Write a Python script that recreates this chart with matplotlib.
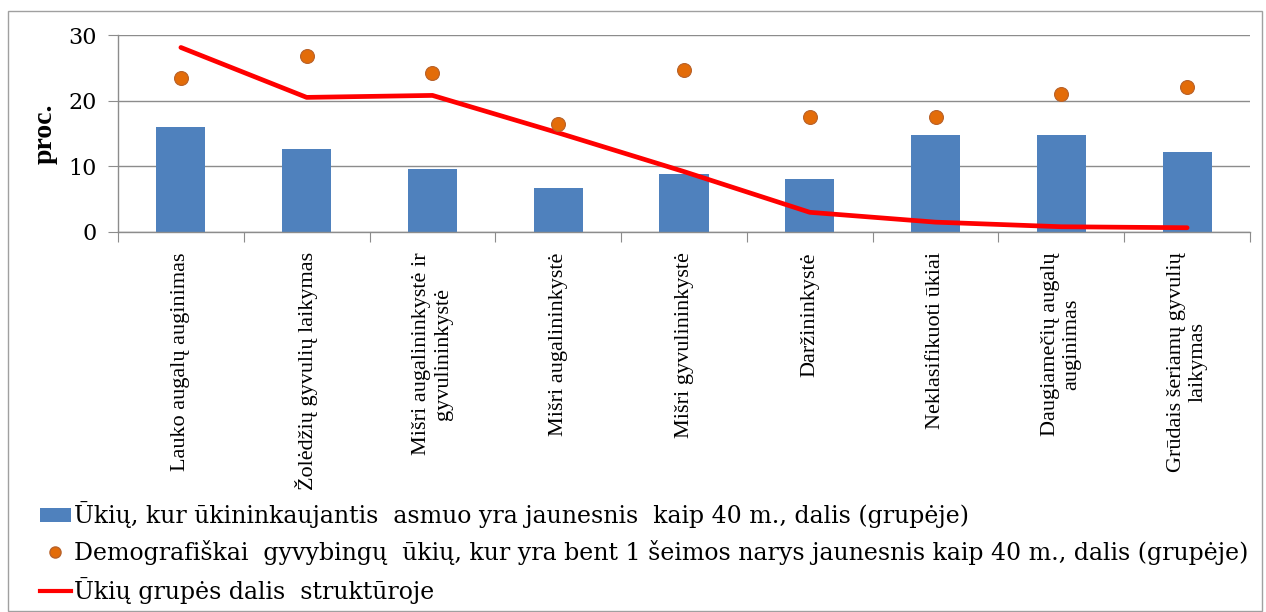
import matplotlib
matplotlib.use("Agg")
import matplotlib.pyplot as plt
from matplotlib.patches import Rectangle
from matplotlib.lines import Line2D
import numpy as np

categories = [
    "Lauko augalų auginimas",
    "Žolėdžių gyvulių laikymas",
    "Mišri augalininkystė ir\ngyvulininkystė",
    "Mišri augalininkystė",
    "Mišri gyvulininkystė",
    "Daržininkystė",
    "Neklasifikuoti ūkiai",
    "Daugiamečių augalų\nauginimas",
    "Grūdais šeriamų gyvulių\nlaikymas",
]
young_share = [16.0, 12.6, 9.6, 6.7, 8.8, 8.0, 14.7, 14.7, 12.2]
viable_share = [23.4, 26.8, 24.2, 16.5, 24.6, 17.5, 17.5, 21.0, 22.1]
structure_share = [28.1, 20.5, 20.8, 15.1, 9.2, 3.0, 1.5, 0.8, 0.65]
yticks = [0, 10, 20, 30]

legend_labels = [
    "Ūkių, kur ūkininkaujantis  asmuo yra jaunesnis  kaip 40 m., dalis (grupėje)",
    "Demografiškai  gyvybingų  ūkių, kur yra bent 1 šeimos narys jaunesnis kaip 40 m., dalis (grupėje)",
    "Ūkių grupės dalis  struktūroje",
]

plt.rcParams['font.family'] = ['Liberation Serif', 'DejaVu Serif']
wide_serif = ['DejaVu Serif', 'Liberation Serif']

fig = plt.figure(figsize=(12.66, 6.12), dpi=100)
ax = fig.add_axes([118/1266, 1-232/612, (1250-118)/1266, (232-35)/612])

x = np.arange(len(categories))
bar_color = "#4F81BD"
dot_color = "#E36C09"
line_color = "#FF0000"

ax.bar(x, young_share, width=0.39, color=bar_color, zorder=2)
ax.plot(x, structure_share, color=line_color, lw=3.4, zorder=3, solid_capstyle='round')
ax.scatter(x, viable_share, s=100, color=dot_color, edgecolor="#B8622A", lw=0.8, zorder=4)

ax.set_xlim(-0.5, len(categories) - 0.5)
ax.set_ylim(0, 30)
ax.set_yticks(yticks)
ax.set_yticklabels([str(v) for v in yticks], fontsize=16, family=wide_serif)
ax.yaxis.grid(True, color="#8c8c8c", lw=1)
ax.set_axisbelow(True)
for s in ["top", "right"]:
    ax.spines[s].set_visible(False)
for s in ["left", "bottom"]:
    ax.spines[s].set_color("#8c8c8c")
    ax.spines[s].set_linewidth(1)
ax.tick_params(axis='y', length=7, color="#8c8c8c", direction='out', pad=8)

ax.set_xticks(np.arange(len(categories) + 1) - 0.5)
ax.set_xticklabels([])
ax.tick_params(axis='x', length=7, color="#8c8c8c", direction='out')
for i, lab in enumerate(categories):
    ax.text(i, -3.1, lab, rotation=90, ha='center', va='top', fontsize=16,
            multialignment='center')

ax.set_ylabel("proc.", fontsize=20, fontweight='bold', labelpad=8)

handles = [
    Rectangle((0, 0), 1, 1, facecolor=bar_color),
    Line2D([0], [0], marker='o', color='none', markerfacecolor=dot_color,
           markeredgecolor="#B8622A", markersize=8),
    Line2D([0], [0], color=line_color, lw=3),
]
leg = fig.legend(handles, legend_labels, loc='upper left',
                 bbox_to_anchor=(40/1266, 1-501/612),
                 frameon=False, prop={'family': wide_serif, 'size': 17},
                 handlelength=1.3, handleheight=0.55, handletextpad=0.15,
                 labelspacing=0.5, borderaxespad=0, borderpad=0)

fig.patches.append(Rectangle((8/1266, 0.002), (1262-8)/1266, 1-11/612-0.002,
                             transform=fig.transFigure, fill=False,
                             edgecolor="#a0a0a0", lw=1))

fig.savefig("out.png", dpi=100)
